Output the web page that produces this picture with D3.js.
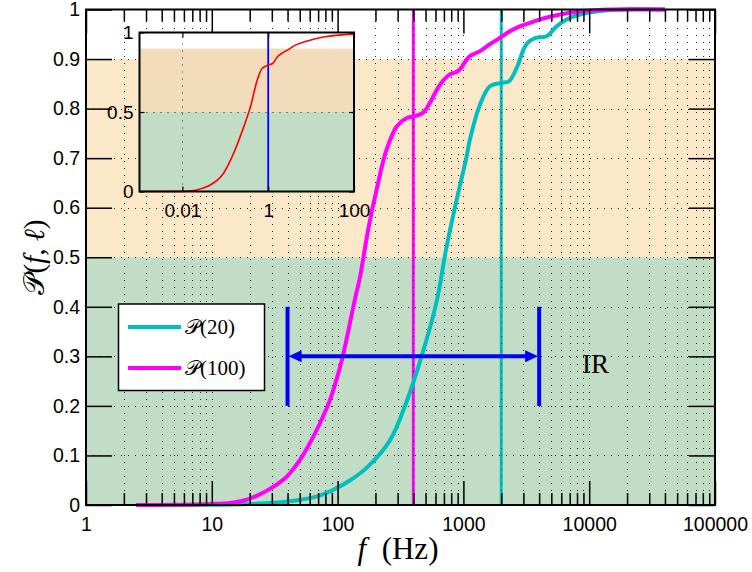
<!DOCTYPE html>
<html><head><meta charset="utf-8">
<script src="https://cdn.jsdelivr.net/npm/d3@7"></script>
<style>body{margin:0;background:#fff}</style>
</head><body>
<svg id="c" width="752" height="572"></svg>
<script>
// ---- data ----
const freq100 = [2.5, 5, 10, 14, 18, 23, 31, 39.4, 50.2, 60.3, 72.4, 87, 98, 110, 137, 151, 175, 204, 245, 295, 355, 400, 480, 540, 650, 780, 910, 1125, 1355, 1625, 1960, 2340, 2800, 3380, 4060, 5860, 8460, 15000, 40000];
const p100    = [0, 0.0005, 0.002, 0.004, 0.009, 0.019, 0.037, 0.057, 0.091, 0.125, 0.165, 0.212, 0.253, 0.30, 0.414, 0.461, 0.556, 0.636, 0.717, 0.764, 0.781, 0.784, 0.792, 0.811, 0.848, 0.869, 0.876, 0.906, 0.916, 0.930, 0.943, 0.956, 0.966, 0.973, 0.98, 0.99, 0.996, 1.0, 1.0];
const freq20  = [2.5, 10, 20, 40, 70, 98, 126, 170, 260, 355, 465, 612, 736, 884, 1062, 1125, 1355, 1625, 2000, 2300, 2650, 3170, 3800, 4580, 5500, 6600, 8460, 12200, 20000, 40000];
const p20     = [0, 0.0005, 0.002, 0.007, 0.018, 0.034, 0.05, 0.075, 0.13, 0.21, 0.30, 0.41, 0.522, 0.616, 0.704, 0.737, 0.808, 0.845, 0.852, 0.855, 0.882, 0.93, 0.943, 0.946, 0.966, 0.98, 0.99, 0.997, 1.0, 1.0];
const insetFreq = [0.001, 0.01, 0.02, 0.0376, 0.091, 0.157, 0.27, 0.386, 0.553, 0.72, 1.0, 1.27, 1.64, 2.15, 2.8, 3.98, 8.2, 19.6, 100];
const insetP    = [0, 0.001, 0.008, 0.031, 0.115, 0.241, 0.408, 0.533, 0.70, 0.774, 0.795, 0.805, 0.847, 0.872, 0.889, 0.916, 0.947, 0.972, 0.99];
const vLineFreqs = [400, 2000];
const irRange = [40, 4000];
const irLevels = [0.2, 0.3, 0.4];
const bandLevels = [0, 0.5, 0.9, 1];
const xTicks = [1, 10, 100, 1000, 10000, 100000];
const xTickLabels = ["1", "10", "100", "1000", "10000", "100000"];
const yTicks = [0, 0.1, 0.2, 0.3, 0.4, 0.5, 0.6, 0.7, 0.8, 0.9, 1];
const yTickLabels = ["0", "0.1", "0.2", "0.3", "0.4", "0.5", "0.6", "0.7", "0.8", "0.9", "1"];
const insetXTicks = [0.01, 1, 100];
const insetXTickLabels = ["0.01", "1", "100"];
const insetYTicks = [0, 0.5, 1];
const insetYTickLabels = ["0", "0.5", "1"];
const legendLabels = ["\u{1D4AB}(20)", "\u{1D4AB}(100)"];

// ---- styles ----
const cyan = "#00bfbf", magenta = "#ff00ff", blue = "#0000ff";
const bandColors = ["#c2ddc5", "#fbe8c9", "#ffffff"];
const insetBandColors = ["#c2ddc5", "#f2dcbb", "#ffffff"];
const sans = "'Liberation Sans', Arial, sans-serif";
const serif = "'Liberation Serif', 'DejaVu Serif', serif";

const svg = d3.select("#c");
const L = 86, R = 715, T = 9.5, B = 505;
const x = d3.scaleLog().domain([1, 1e5]).range([L, R]);
const y = d3.scaleLinear().domain([0, 1]).range([B, T]);

// bands
for (let i = 0; i < bandColors.length; i++) {
  svg.append("rect").attr("x", L).attr("width", R - L)
    .attr("y", y(bandLevels[i + 1])).attr("height", y(bandLevels[i]) - y(bandLevels[i + 1]))
    .attr("fill", bandColors[i]);
}

// vertical marker lines
const vColors = [magenta, cyan];
vLineFreqs.forEach((f, i) => {
  svg.append("line").attr("x1", x(f)).attr("x2", x(f)).attr("y1", y(0)).attr("y2", y(1))
    .attr("stroke", vColors[i]).attr("stroke-width", 3);
});

// grid
const minor = [];
for (let d = 1; d < 1e5; d *= 10) for (let k = 1; k <= 9; k++) minor.push(d * k);
const gridX = minor.filter(v => v > 1 && v < 1e5);
const grid = svg.append("g").attr("stroke", "#222").attr("stroke-width", 1).attr("stroke-dasharray", "1,6");
gridX.forEach(v => grid.append("line").attr("x1", Math.round(x(v)) + 0.5).attr("x2", Math.round(x(v)) + 0.5).attr("y1", B).attr("y2", T));
yTicks.filter(v => v > 0 && v < 1).forEach(v => grid.append("line").attr("x1", L).attr("x2", R).attr("y1", Math.round(y(v)) + 0.5).attr("y2", Math.round(y(v)) + 0.5));

// curves
const line = d3.line().x(d => x(d[0])).y(d => y(d[1])).curve(d3.curveCatmullRom.alpha(0.5));
svg.append("path").datum(freq20.map((f, i) => [f, p20[i]])).attr("d", line)
  .attr("fill", "none").attr("stroke", cyan).attr("stroke-width", 4);
svg.append("path").datum(freq100.map((f, i) => [f, p100[i]])).attr("d", line)
  .attr("fill", "none").attr("stroke", magenta).attr("stroke-width", 4);

// IR arrow
const ir = svg.append("g").attr("stroke", blue).attr("stroke-width", 4);
irRange.forEach(f => ir.append("line").attr("x1", x(f)).attr("x2", x(f)).attr("y1", y(irLevels[0])).attr("y2", y(irLevels[2])));
ir.append("line").attr("x1", x(irRange[0]) + 8).attr("x2", x(irRange[1]) - 8).attr("y1", y(irLevels[1])).attr("y2", y(irLevels[1]));
const ay = y(irLevels[1]);
const xl = x(irRange[0]), xr = x(irRange[1]);
svg.append("path").attr("d", `M${xl + 1},${ay} L${xl + 14},${ay - 6} L${xl + 14},${ay + 6} Z`).attr("fill", blue);
svg.append("path").attr("d", `M${xr - 1},${ay} L${xr - 14},${ay - 6} L${xr - 14},${ay + 6} Z`).attr("fill", blue);
svg.append("text").attr("x", 582).attr("y", 373).attr("font-family", serif).attr("font-size", 27).text("IR");

// axes ticks (inward)
function styleAxis(g) {
  g.select(".domain").remove();
  g.selectAll(".tick line").attr("stroke", "#000").attr("stroke-width", 1.5);
  g.selectAll("text").attr("font-family", sans).attr("font-size", 19.5).attr("fill", "#000");
}
const minorOnly = minor.filter(v => xTicks.indexOf(v) < 0);
svg.append("g").attr("transform", `translate(0,${B})`)
  .call(d3.axisBottom(x).tickValues(minorOnly).tickSize(-12).tickFormat("")).call(styleAxis);
svg.append("g").attr("transform", `translate(0,${B})`)
  .call(d3.axisBottom(x).tickValues(xTicks).tickSize(-24).tickPadding(12).tickFormat((d, i) => xTickLabels[i])).call(styleAxis);
svg.append("g").attr("transform", `translate(0,${T})`)
  .call(d3.axisTop(x).tickValues(minorOnly).tickSize(-12).tickFormat("")).call(styleAxis);
svg.append("g").attr("transform", `translate(0,${T})`)
  .call(d3.axisTop(x).tickValues(xTicks).tickSize(-24).tickFormat("")).call(styleAxis);
svg.append("g").attr("transform", `translate(${L},0)`)
  .call(d3.axisLeft(y).tickValues(yTicks).tickSize(-26).tickPadding(6).tickFormat((d, i) => yTickLabels[i])).call(styleAxis);
svg.append("g").attr("transform", `translate(${R},0)`)
  .call(d3.axisRight(y).tickValues(yTicks).tickSize(-26).tickFormat("")).call(styleAxis);

// frame
svg.append("rect").attr("x", L).attr("y", T).attr("width", R - L).attr("height", B - T)
  .attr("fill", "none").attr("stroke", "#000").attr("stroke-width", 2);

// axis labels
const xl2 = svg.append("text").attr("x", 398).attr("y", 559).attr("text-anchor", "middle")
  .attr("font-family", serif).attr("font-size", 31);
xl2.append("tspan").attr("font-style", "italic").text("f");
xl2.append("tspan").text("\u2002(Hz)");
const yl = svg.append("text").attr("transform", "translate(44,257) rotate(-90)").attr("text-anchor", "middle")
  .attr("font-family", serif).attr("font-size", 29);
yl.append("tspan").text("\u{1D4AB}(");
yl.append("tspan").attr("font-style", "italic").text("f");
yl.append("tspan").text(", ");
yl.append("tspan").attr("font-style", "italic").text("\u2113");
yl.append("tspan").text(")");

// legend
const lg = svg.append("g");
lg.append("rect").attr("x", 118.5).attr("y", 304).attr("width", 146).attr("height", 86.5)
  .attr("fill", "#fff").attr("stroke", "#000").attr("stroke-width", 1.5);
const lgColors = [cyan, magenta];
legendLabels.forEach((t, i) => {
  const yy = 327 + i * 41;
  lg.append("line").attr("x1", 128).attr("x2", 181).attr("y1", yy).attr("y2", yy)
    .attr("stroke", lgColors[i]).attr("stroke-width", 4);
  lg.append("text").attr("x", 185).attr("y", yy + 7).attr("font-family", serif).attr("font-size", 21).text(t);
});

// inset
const iL = 139.5, iR = 354, iT = 32.5, iB = 191.5;
const ix = d3.scaleLog().domain([0.001, 100]).range([iL, iR]);
const iy = d3.scaleLinear().domain([0, 1]).range([iB, iT]);
const ins = svg.append("g");
for (let i = 0; i < insetBandColors.length; i++) {
  ins.append("rect").attr("x", iL).attr("width", iR - iL)
    .attr("y", iy(bandLevels[i + 1])).attr("height", iy(bandLevels[i]) - iy(bandLevels[i + 1]))
    .attr("fill", insetBandColors[i]);
}
const ig = ins.append("g").attr("stroke", "#222").attr("stroke-width", 1).attr("stroke-dasharray", "1,6");
[0.01, 1].forEach(v => ig.append("line").attr("x1", Math.round(ix(v)) + 0.5).attr("x2", Math.round(ix(v)) + 0.5).attr("y1", iB).attr("y2", iT));
ig.append("line").attr("x1", iL).attr("x2", iR).attr("y1", Math.round(iy(0.5)) + 0.5).attr("y2", Math.round(iy(0.5)) + 0.5);
ins.append("line").attr("x1", ix(1)).attr("x2", ix(1)).attr("y1", iB).attr("y2", iT).attr("stroke", blue).attr("stroke-width", 1.8);
const iline = d3.line().x(d => ix(d[0])).y(d => iy(d[1])).curve(d3.curveMonotoneX);
ins.append("path").datum(insetFreq.map((f, i) => [f, insetP[i]])).attr("d", iline)
  .attr("fill", "none").attr("stroke", "#ff0000").attr("stroke-width", 1.6);
function styleInset(g) {
  g.select(".domain").remove();
  g.selectAll(".tick line").attr("stroke", "#000").attr("stroke-width", 1.2);
  g.selectAll("text").attr("font-family", sans).attr("font-size", 19).attr("fill", "#000");
}
ins.append("g").attr("transform", `translate(0,${iB})`)
  .call(d3.axisBottom(ix).tickValues(insetXTicks).tickSize(-5).tickPadding(12).tickFormat((d, i) => insetXTickLabels[i])).call(styleInset);
ins.append("g").attr("transform", `translate(0,${iT})`)
  .call(d3.axisTop(ix).tickValues(insetXTicks).tickSize(-5).tickFormat("")).call(styleInset);
ins.append("g").attr("transform", `translate(${iL},0)`)
  .call(d3.axisLeft(iy).tickValues(insetYTicks).tickSize(-5).tickPadding(6).tickFormat((d, i) => insetYTickLabels[i])).call(styleInset);
ins.append("g").attr("transform", `translate(${iR},0)`)
  .call(d3.axisRight(iy).tickValues(insetYTicks).tickSize(-5).tickFormat("")).call(styleInset);
ins.append("rect").attr("x", iL).attr("y", iT).attr("width", iR - iL).attr("height", iB - iT)
  .attr("fill", "none").attr("stroke", "#000").attr("stroke-width", 2);
</script>
</body></html>
